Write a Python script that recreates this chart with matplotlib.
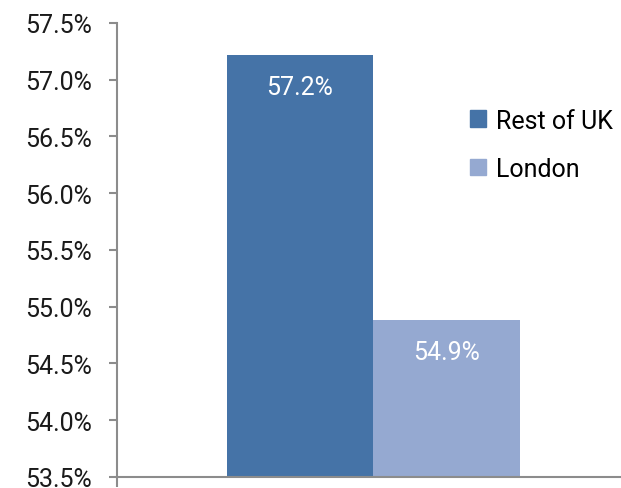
import matplotlib
matplotlib.use("Agg")
import matplotlib.pyplot as plt
from matplotlib.ticker import FuncFormatter

# data
series = ["Rest of UK", "London"]
values = [57.22, 54.88]
labels = ["57.2%", "54.9%"]
colors = ["#4573a7", "#95a9d1"]
y_ticks = [53.5, 54.0, 54.5, 55.0, 55.5, 56.0, 56.5, 57.0, 57.5]

plt.rcParams["font.family"] = ["Roboto", "DejaVu Sans"]

fig = plt.figure(figsize=(6.21, 4.89), dpi=100)
ax = fig.add_axes([0.188, 0.0225, 0.812, 0.9285])

xs = [0, 1]
bars = ax.bar(xs, [v - 53.5 for v in values], bottom=53.5, width=1.0,
              color=colors, label=series, linewidth=0)

# value labels inside the bar tops
for b, lab, v in zip(bars, labels, values):
    ax.annotate(lab, (b.get_x() + b.get_width() / 2, v), xytext=(0, -23),
                textcoords="offset points", ha="center", va="center",
                color="white", fontsize=18)

ax.set_xlim(-1.251, 2.19)
ax.set_ylim(53.5, 57.5)
ax.set_yticks(y_ticks)
ax.yaxis.set_major_formatter(FuncFormatter(lambda v, p: f"{v:.1f}%"))
ax.tick_params(axis="y", length=6, width=1.5, color="#8c8c8c", pad=12,
               labelsize=18, labelcolor="#1a1a1a")
ax.set_xticks([-1.251])
ax.set_xticklabels([])
ax.tick_params(axis="x", length=7, width=1.5, color="#8c8c8c")

for s in ["top", "right"]:
    ax.spines[s].set_visible(False)
for s in ["left", "bottom"]:
    ax.spines[s].set_color("#8c8c8c")
    ax.spines[s].set_linewidth(1.5)

handles = [plt.Rectangle((0, 0), 1, 1, color=c) for c in colors]
fig.legend(handles, series, loc="upper left", bbox_to_anchor=(0.757, 0.776),
           frameon=False, fontsize=18, handlelength=0.64, handleheight=0.64,
           handletextpad=0.4, labelspacing=0.97, borderpad=0,
           borderaxespad=0)

fig.savefig("out.png", dpi=100)
